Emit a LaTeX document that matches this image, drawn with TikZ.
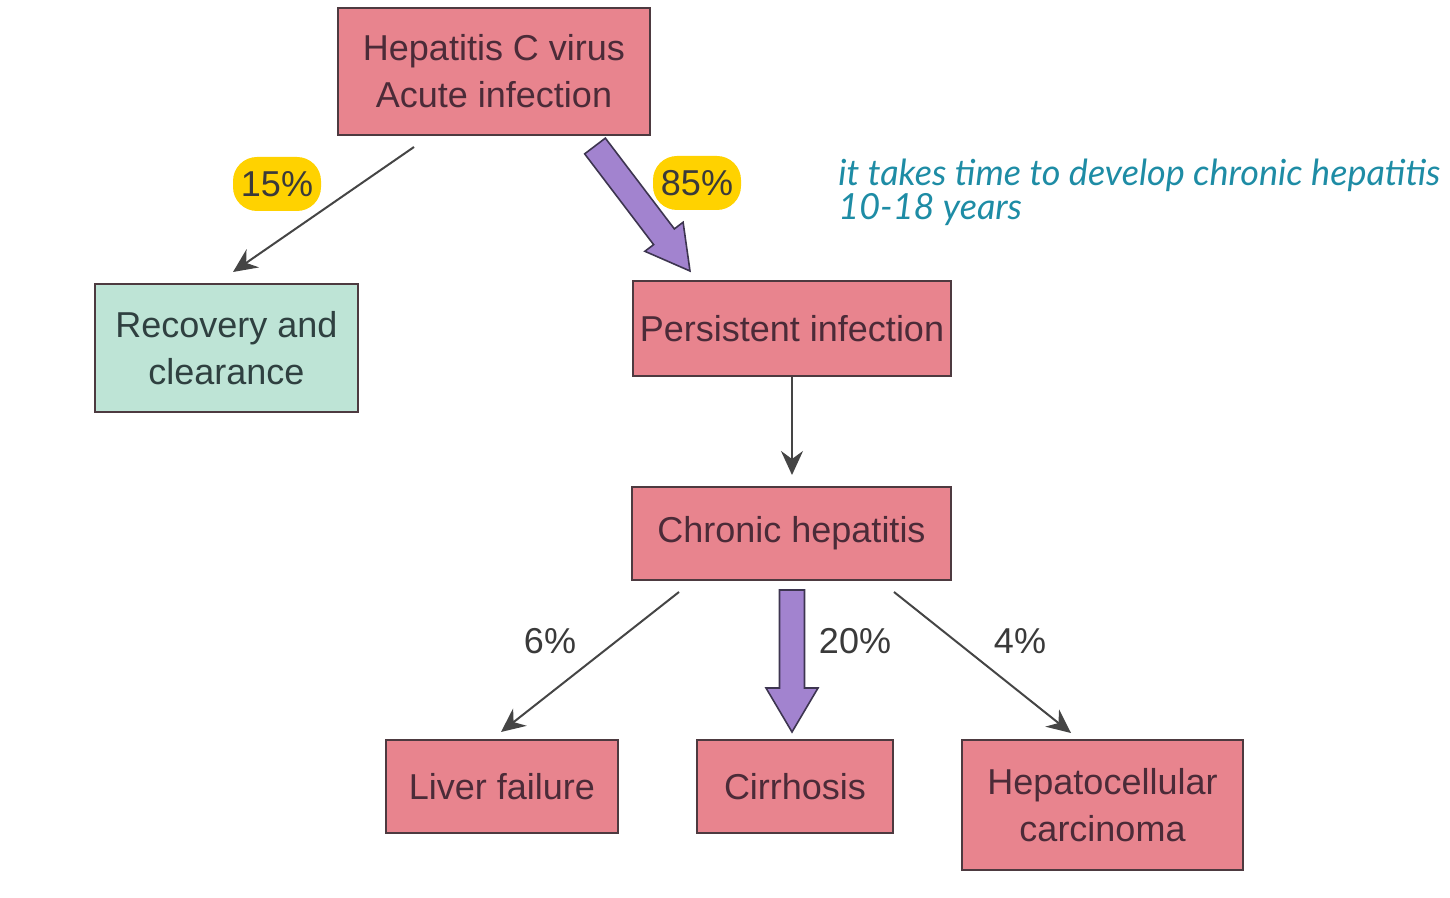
\documentclass[tikz,border=0pt]{standalone}
\usepackage{fontspec}
\setmainfont{Liberation Sans}
\newfontfamily\handfont{Lato Italic}
\usetikzlibrary{arrows.meta,calc}
\definecolor{boxpink}{HTML}{E8848E}
\definecolor{boxmint}{HTML}{BEE4D6}
\definecolor{boxline}{HTML}{4D3A40}
\definecolor{boxtext}{HTML}{4B2B38}
\definecolor{mintext}{HTML}{2F4040}
\definecolor{arrowgray}{HTML}{454545}
\definecolor{fatpurple}{HTML}{A283CF}
\definecolor{fatline}{HTML}{3D3550}
\definecolor{hlyellow}{HTML}{FFD200}
\definecolor{notecol}{HTML}{1E8CA5}
\definecolor{pcttext}{HTML}{3A3A3A}
\begin{document}
\begin{tikzpicture}[x=0.5pt,y=-0.5pt,
  box/.style={draw=boxline, line width=1pt, fill=boxpink, text=boxtext, align=center,
    inner sep=0pt, font=\fontsize{18}{23.5}\selectfont},
  thinarrow/.style={draw=arrowgray, line width=1pt, -{Stealth[length=12pt,width=11pt,inset=4pt]}},
  fatarrow/.style={draw=fatline, fill=fatpurple, line width=0.8pt, line join=miter},
  pct/.style={font=\fontsize{18}{20}\selectfont, text=pcttext, inner sep=0pt},
  hl/.style={pct, fill=hlyellow, rounded corners=12pt, minimum width=44pt, minimum height=27pt},
  note/.style={font=\handfont\fontsize{18}{18}\selectfont, text=notecol, inner sep=0pt, anchor=base west}]
\useasboundingbox (0,0) rectangle (1450,898);

% boxes
\node[box, minimum width=156pt, minimum height=63.5pt] (hcv) at (494,71.5) {Hepatitis C virus\\Acute infection};
\node[box, fill=boxmint, text=mintext, minimum width=131.5pt, minimum height=64pt] (rec) at (226.5,348) {Recovery and\\clearance};
\node[box, minimum width=159pt, minimum height=47.5pt] (pers) at (792,328.5) {Persistent infection};
\node[box, minimum width=159.5pt, minimum height=46.5pt] (chr) at (791.5,533.5) {Chronic hepatitis};
\node[box, minimum width=116pt, minimum height=46.5pt] (liv) at (502,786.5) {Liver failure};
\node[box, minimum width=98pt, minimum height=46.5pt] (cir) at (795,786.5) {Cirrhosis};
\node[box, minimum width=140.5pt, minimum height=65pt] (hcc) at (1102.5,805) {Hepatocellular\\carcinoma};

% connector end points
\coordinate (s15) at (414,147);
\coordinate (t15) at (233,272);
\coordinate (tpc) at (792,475);
\coordinate (s6) at (679,592);
\coordinate (t6) at (501,732);
\coordinate (s4) at (894,592);
\coordinate (t4) at (1071,733);
\coordinate (s85) at (595,146);
\coordinate (t85) at (690,271);
\coordinate (h85) at ($(t85)!21.5pt!(s85)$);
\coordinate (s20) at (792,590);
\coordinate (t20) at (792,732);
\coordinate (h20) at ($(t20)!22pt!(s20)$);

% thin connectors
\draw[thinarrow] (s15) -- (t15);
\draw[thinarrow] (pers.south) -- (tpc);
\draw[thinarrow] (s6) -- (t6);
\draw[thinarrow] (s4) -- (t4);

% fat arrows
\draw[fatarrow] ($(s85)!6.5pt!90:(t85)$) -- ($(h85)!6.5pt!90:(t85)$) -- ($(h85)!12pt!90:(t85)$)
  -- (t85) -- ($(h85)!12pt!-90:(t85)$) -- ($(h85)!6.5pt!-90:(t85)$) -- ($(s85)!6.5pt!-90:(t85)$) -- cycle;
\draw[fatarrow] ($(s20)!6.25pt!90:(t20)$) -- ($(h20)!6.25pt!90:(t20)$) -- ($(h20)!13pt!90:(t20)$)
  -- (t20) -- ($(h20)!13pt!-90:(t20)$) -- ($(h20)!6.25pt!-90:(t20)$) -- ($(s20)!6.25pt!-90:(t20)$) -- cycle;

% percentage labels
\node[hl] (p15) at (277,184) {15\%};
\node[hl] (p85) at (697,183) {85\%};
\node[pct] (p6) at (550,641) {6\%};
\node[pct] (p20) at (855,641) {20\%};
\node[pct] (p4) at (1020,641) {4\%};

% handwritten note
\node[note] (n1) at (838,186) {it takes time to develop chronic hepatitis};
\node[note] (n2) at (838,220) {10-18 years};
\end{tikzpicture}
\end{document}
